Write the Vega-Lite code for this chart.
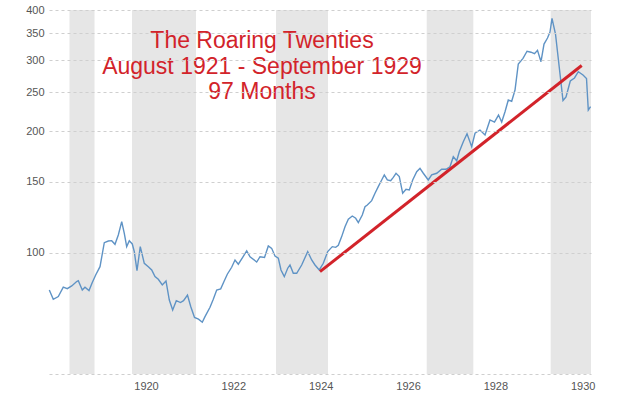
{
  "$schema": "https://vega.github.io/schema/vega-lite/v6.json",
  "width": 542,
  "height": 364,
  "autosize": "none",
  "padding": {"left": 49, "top": 10, "right": 33, "bottom": 20},
  "background": "white",
  "config": {
    "view": {"stroke": null},
    "axis": {
      "domain": false,
      "ticks": false,
      "labelColor": "#555555",
      "labelFont": "Liberation Sans",
      "labelFontSize": 11,
      "gridColor": "#cfcfcf",
      "gridDash": [3, 3],
      "gridWidth": 1
    }
  },
  "datasets": {
    "bands": [
      {"start": 1918.248, "end": 1918.821},
      {"start": 1919.679, "end": 1921.145},
      {"start": 1922.977, "end": 1924.168},
      {"start": 1926.428, "end": 1927.495},
      {"start": 1929.267, "end": 1930.19}
    ],
    "series": [
      {"year": 1917.786, "value": 80.8},
      {"year": 1917.877, "value": 76.6},
      {"year": 1917.992, "value": 77.8},
      {"year": 1918.106, "value": 82.1},
      {"year": 1918.198, "value": 81.4},
      {"year": 1918.299, "value": 82.7},
      {"year": 1918.413, "value": 84.8},
      {"year": 1918.45, "value": 85.2},
      {"year": 1918.541, "value": 80.8},
      {"year": 1918.603, "value": 82.1},
      {"year": 1918.695, "value": 80.5},
      {"year": 1918.77, "value": 84.3},
      {"year": 1918.848, "value": 88.0},
      {"year": 1918.947, "value": 92.3},
      {"year": 1919.045, "value": 105.9},
      {"year": 1919.137, "value": 106.9},
      {"year": 1919.215, "value": 107.1},
      {"year": 1919.29, "value": 104.9},
      {"year": 1919.366, "value": 110.6},
      {"year": 1919.444, "value": 119.4},
      {"year": 1919.503, "value": 111.7},
      {"year": 1919.558, "value": 103.5},
      {"year": 1919.618, "value": 107.1},
      {"year": 1919.686, "value": 105.1},
      {"year": 1919.732, "value": 100.6},
      {"year": 1919.794, "value": 90.2},
      {"year": 1919.869, "value": 103.5},
      {"year": 1919.961, "value": 94.1},
      {"year": 1920.053, "value": 92.3},
      {"year": 1920.131, "value": 90.6},
      {"year": 1920.206, "value": 87.2},
      {"year": 1920.282, "value": 85.9},
      {"year": 1920.373, "value": 83.2},
      {"year": 1920.458, "value": 85.1},
      {"year": 1920.534, "value": 76.3},
      {"year": 1920.611, "value": 72.1},
      {"year": 1920.694, "value": 76.0},
      {"year": 1920.79, "value": 75.2},
      {"year": 1920.859, "value": 76.0},
      {"year": 1920.95, "value": 78.5},
      {"year": 1921.024, "value": 73.5},
      {"year": 1921.111, "value": 69.1},
      {"year": 1921.202, "value": 68.4},
      {"year": 1921.289, "value": 67.2},
      {"year": 1921.351, "value": 69.4},
      {"year": 1921.466, "value": 73.2},
      {"year": 1921.541, "value": 76.6},
      {"year": 1921.619, "value": 80.8},
      {"year": 1921.711, "value": 81.3},
      {"year": 1921.786, "value": 84.8},
      {"year": 1921.862, "value": 88.4},
      {"year": 1921.962, "value": 92.0},
      {"year": 1922.038, "value": 95.9},
      {"year": 1922.114, "value": 93.6},
      {"year": 1922.214, "value": 97.4},
      {"year": 1922.306, "value": 101.0},
      {"year": 1922.382, "value": 97.7},
      {"year": 1922.535, "value": 94.8},
      {"year": 1922.611, "value": 97.7},
      {"year": 1922.714, "value": 97.3},
      {"year": 1922.801, "value": 103.9},
      {"year": 1922.878, "value": 102.5},
      {"year": 1922.954, "value": 98.1},
      {"year": 1923.03, "value": 96.9},
      {"year": 1923.091, "value": 90.6},
      {"year": 1923.167, "value": 87.2},
      {"year": 1923.245, "value": 91.5},
      {"year": 1923.297, "value": 93.2},
      {"year": 1923.373, "value": 88.9},
      {"year": 1923.451, "value": 88.9},
      {"year": 1923.565, "value": 93.2},
      {"year": 1923.703, "value": 100.6},
      {"year": 1923.794, "value": 95.9},
      {"year": 1923.87, "value": 93.2},
      {"year": 1923.968, "value": 90.6},
      {"year": 1924.06, "value": 94.1},
      {"year": 1924.161, "value": 100.6},
      {"year": 1924.266, "value": 103.5},
      {"year": 1924.344, "value": 103.1},
      {"year": 1924.404, "value": 104.3},
      {"year": 1924.481, "value": 109.6},
      {"year": 1924.557, "value": 116.0},
      {"year": 1924.633, "value": 121.0},
      {"year": 1924.724, "value": 123.3},
      {"year": 1924.802, "value": 121.7},
      {"year": 1924.862, "value": 118.7},
      {"year": 1924.953, "value": 124.0},
      {"year": 1925.015, "value": 130.0},
      {"year": 1925.068, "value": 131.3},
      {"year": 1925.168, "value": 134.6},
      {"year": 1925.244, "value": 140.4},
      {"year": 1925.319, "value": 145.8},
      {"year": 1925.397, "value": 151.5},
      {"year": 1925.457, "value": 155.9},
      {"year": 1925.526, "value": 151.5},
      {"year": 1925.603, "value": 150.9},
      {"year": 1925.663, "value": 153.8},
      {"year": 1925.725, "value": 157.4},
      {"year": 1925.8, "value": 154.4},
      {"year": 1925.878, "value": 140.4},
      {"year": 1925.954, "value": 143.6},
      {"year": 1926.029, "value": 143.1},
      {"year": 1926.107, "value": 151.5},
      {"year": 1926.199, "value": 158.8},
      {"year": 1926.274, "value": 161.9},
      {"year": 1926.35, "value": 157.4},
      {"year": 1926.464, "value": 151.5},
      {"year": 1926.542, "value": 155.9},
      {"year": 1926.657, "value": 157.4},
      {"year": 1926.771, "value": 161.0},
      {"year": 1926.87, "value": 161.0},
      {"year": 1926.961, "value": 163.4},
      {"year": 1927.037, "value": 173.0},
      {"year": 1927.115, "value": 169.1},
      {"year": 1927.174, "value": 178.0},
      {"year": 1927.266, "value": 188.5},
      {"year": 1927.351, "value": 197.3},
      {"year": 1927.458, "value": 183.2},
      {"year": 1927.534, "value": 197.8},
      {"year": 1927.648, "value": 201.5},
      {"year": 1927.763, "value": 195.8},
      {"year": 1927.877, "value": 213.4},
      {"year": 1927.98, "value": 210.9},
      {"year": 1928.072, "value": 219.5},
      {"year": 1928.145, "value": 210.9},
      {"year": 1928.221, "value": 223.7},
      {"year": 1928.296, "value": 239.2},
      {"year": 1928.374, "value": 237.5},
      {"year": 1928.45, "value": 253.2},
      {"year": 1928.525, "value": 293.8},
      {"year": 1928.633, "value": 303.5},
      {"year": 1928.725, "value": 316.1},
      {"year": 1928.816, "value": 314.3},
      {"year": 1928.896, "value": 311.6},
      {"year": 1928.965, "value": 317.7},
      {"year": 1929.045, "value": 297.7},
      {"year": 1929.114, "value": 329.3},
      {"year": 1929.194, "value": 340.8},
      {"year": 1929.251, "value": 352.7},
      {"year": 1929.297, "value": 381.4},
      {"year": 1929.377, "value": 348.7},
      {"year": 1929.549, "value": 238.5},
      {"year": 1929.618, "value": 243.3},
      {"year": 1929.716, "value": 266.7},
      {"year": 1929.812, "value": 271.3},
      {"year": 1929.899, "value": 281.2},
      {"year": 1930.007, "value": 276.0},
      {"year": 1930.087, "value": 270.5},
      {"year": 1930.128, "value": 225.9},
      {"year": 1930.18, "value": 230.4}
    ],
    "trend": [
      {"year": 1923.984, "value": 89.7},
      {"year": 1929.977, "value": 291.3}
    ],
    "notes": [
      {"label": "The Roaring Twenties", "year": 1922.656, "value": 334.9},
      {"label": "August 1921 - September 1929", "year": 1922.656, "value": 288.8},
      {"label": "97 Months", "year": 1922.656, "value": 250.4}
    ]
  },
  "layer": [
    {
      "data": {"name": "bands"},
      "mark": {"type": "rect", "color": "#e6e6e6"},
      "encoding": {
        "x": {
          "field": "start",
          "type": "quantitative",
          "title": null,
          "scale": {"domain": [1917.779, 1930.19], "nice": false, "zero": false},
          "axis": {
            "grid": false,
            "values": [1920, 1922, 1924, 1926, 1928, 1930],
            "format": "d",
            "labelPadding": 6,
            "title": null
          }
        },
        "x2": {"field": "end"}
      }
    },
    {
      "data": {"name": "series"},
      "mark": {"type": "line", "color": "#5f93c5", "strokeWidth": 1.4},
      "encoding": {
        "x": {"field": "year", "type": "quantitative", "title": null,
              "scale": {"domain": [1917.779, 1930.19], "nice": false, "zero": false}},
        "y": {
          "field": "value",
          "type": "quantitative",
          "title": null,
          "scale": {"type": "log", "domain": [50, 400], "nice": false},
          "axis": {
            "grid": true,
            "zindex": 1,
            "values": [50, 100, 150, 200, 250, 300, 350, 400],
            "labelExpr": "datum.value == 50 ? '' : datum.label",
            "format": "d",
            "labelPadding": 5,
            "title": null
          }
        }
      }
    },
    {
      "data": {"name": "trend"},
      "mark": {"type": "line", "color": "#d2232a", "strokeWidth": 3},
      "encoding": {
        "x": {"field": "year", "type": "quantitative", "title": null,
              "scale": {"domain": [1917.779, 1930.19], "nice": false, "zero": false}},
        "y": {"field": "value", "type": "quantitative", "title": null,
              "scale": {"type": "log", "domain": [50, 400], "nice": false}}
      }
    },
    {
      "data": {"name": "notes"},
      "mark": {"type": "text", "font": "Liberation Sans", "fontSize": 23, "color": "#d2232a", "align": "center", "baseline": "middle"},
      "encoding": {
        "x": {"field": "year", "type": "quantitative", "title": null,
              "scale": {"domain": [1917.779, 1930.19], "nice": false, "zero": false}},
        "y": {"field": "value", "type": "quantitative", "title": null,
              "scale": {"type": "log", "domain": [50, 400], "nice": false}},
        "text": {"field": "label"}
      }
    }
  ]
}
